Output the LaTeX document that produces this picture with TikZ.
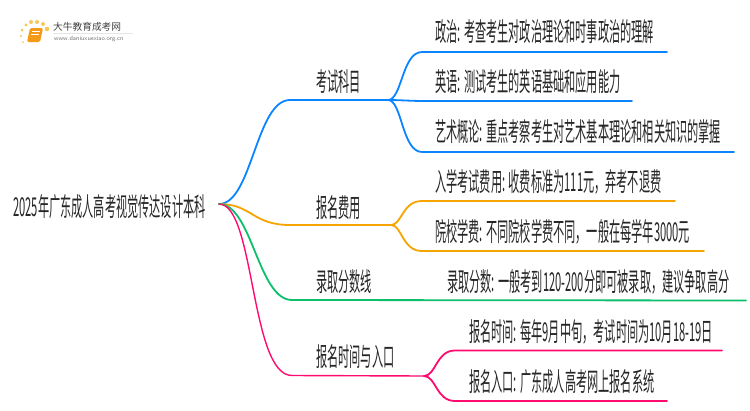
\documentclass[tikz,border=0pt]{standalone}
\usepackage{fontspec}
\newfontfamily\cjk[FakeStretch=0.43]{Noto Sans CJK SC}
\newfontfamily\logocjk{Noto Sans CJK SC}
\usepackage{tikz}
\definecolor{mapblue}{HTML}{0A84FF}
\definecolor{maporange}{HTML}{F5A400}
\definecolor{mapgreen}{HTML}{0CBF6C}
\definecolor{mappink}{HTML}{FF0A6E}
\definecolor{bookorange}{HTML}{F59A16}
\definecolor{dotyellow}{HTML}{F9C65A}
\tikzset{
  txt/.style={anchor=west,inner sep=0pt,text height=22pt,text depth=2pt,font=\cjk\fontsize{26}{26}\selectfont,text=black!85},
  branch/.style={line width=1.8pt,line cap=round},
  dot/.style={circle,fill=dotyellow,inner sep=0pt}
}
\begin{document}
\begin{tikzpicture}[x=1pt,y=-1pt]
\useasboundingbox (0,0) rectangle (750,410);
% logo
\fill[bookorange,rounded corners=1.5pt] (30,28) -- (43,28) -- (40,42) -- (27,42) -- cycle;
\draw[white,line width=0.6pt] (32,31) -- (40,31) (31,34) -- (39,34);
\foreach \px/\py/\rad in {23/42/1,21/36/1.2,22/30/1.5,26/25/1.7,31/22/2,37/22/2,43/24/2,47/29/2.3}
  \node[dot,minimum size=\rad*2pt] (dot\px) at (\px,\py) {};
\fill[black!10] (53,33) rectangle (133,33.6);
\node[anchor=west,inner sep=0pt,font=\logocjk\fontsize{9.7}{10}\selectfont,text=black!75] (logoname) at (53,27) {大牛教育成考网};
\node[anchor=west,inner sep=0pt,font=\fontsize{6.2}{7}\selectfont\sffamily,text=black!55] (logourl) at (54,38.5) {www.daniuxuexiao.org.cn};
% text
\node[txt] (root) at (13,206) {2025年广东成人高考视觉传达设计本科};
\coordinate (hub) at (219,204);
\node[txt] (kemu) at (316,81) {考试科目};
\node[txt] (feiyong) at (316,207) {报名费用};
\node[txt] (fenshu) at (316,281) {录取分数线};
\node[txt] (rukou) at (316,356) {报名时间与入口};
\node[txt] (zhengzhi) at (435,31) {政治: 考查考生对政治理论和时事政治的理解};
\node[txt] (yingyu) at (435,81) {英语: 测试考生的英语基础和应用能力};
\node[txt] (yishu) at (435,131) {艺术概论: 重点考察考生对艺术基本理论和相关知识的掌握};
\node[txt] (ruxue) at (435,181) {入学考试费用: 收费标准为111元，弃考不退费};
\node[txt] (xuefei) at (435,231) {院校学费: 不同院校学费不同，一般在每学年3000元};
\node[txt] (luqu) at (447,281) {录取分数: 一般考到120-200分即可被录取，建议争取高分};
\node[txt] (shijian) at (469,331) {报名时间: 每年9月中旬，考试时间为10月18-19日};
\node[txt] (baoming) at (469,381) {报名入口: 广东成人高考网上报名系统};
% hubs and line ends
\coordinate (kemuhub) at (388,100);
\coordinate (feihub) at (391,225);
\coordinate (ruhub) at (424,376);
\coordinate (zhengend) at (667,52);
\coordinate (yingend) at (632,101);
\coordinate (yishuend) at (734,152);
\coordinate (ruxueend) at (675,201);
\coordinate (xueend) at (704,251);
\coordinate (luend) at (746,300.5);
\coordinate (shiend) at (722,350.5);
\coordinate (baoend) at (667,401);
% blue
\draw[branch,mapblue] (hub) .. controls (252,204) and (256,100) .. (290,100) -- (kemuhub);
\draw[branch,mapblue] (kemuhub) .. controls (402,100) and (402,52) .. (422,52) -- (zhengend);
\draw[branch,mapblue] (kemuhub) .. controls (400,100) and (410,101) .. (425,101) -- (yingend);
\draw[branch,mapblue] (kemuhub) .. controls (402,100) and (402,152) .. (422,152) -- (yishuend);
% orange
\draw[branch,maporange] (hub) .. controls (252,204) and (252,225) .. (290,225) -- (feihub);
\draw[branch,maporange] (feihub) .. controls (402,225) and (402,201) .. (422,201) -- (ruxueend);
\draw[branch,maporange] (feihub) .. controls (402,225) and (402,251) .. (422,251) -- (xueend);
% green
\draw[branch,mapgreen] (hub) .. controls (252,204) and (258,300) .. (292,300) -- (luend);
% pink
\draw[branch,mappink,line width=1.4pt] (hub) .. controls (255,204) and (250,375.5) .. (292,375.5) -- (ruhub);
\draw[branch,mappink] (ruhub) .. controls (436,376) and (436,350.5) .. (455,350.5) -- (shiend);
\draw[branch,mappink] (ruhub) .. controls (436,376) and (436,401) .. (455,401) -- (baoend);
\end{tikzpicture}
\end{document}
